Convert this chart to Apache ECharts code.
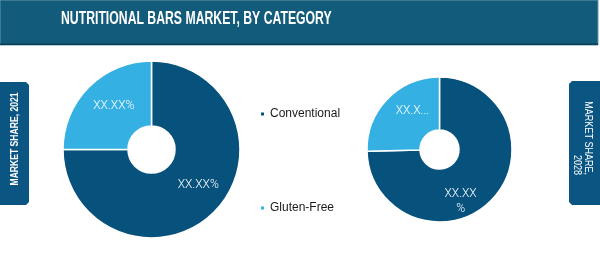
<!DOCTYPE html>
<html><head><meta charset="utf-8">
<script src="https://cdn.jsdelivr.net/npm/echarts@6/dist/echarts.min.js"></script>
<style>html,body{margin:0;padding:0;background:#fff}#c{width:600px;height:263px}</style>
</head><body><div id="c"></div>
<script>
const title = 'NUTRITIONAL BARS MARKET, BY CATEGORY';
const categories = ['Conventional', 'Gluten-Free'];
const share2021 = [75, 25];
const share2028 = [74.6, 25.4];
const labels2021 = ['XX.XX%', 'XX.XX%'];
const labels2028 = ['XX.XX\n%', 'XX.X...'];
const tabLeft = 'MARKET SHARE, 2021';
const tabRight = 'MARKET SHARE,\n2028';
const colors = ['#07517d', '#35b0e3'];

const chart = echarts.init(document.getElementById('c'), null, {renderer: 'canvas'});
const sans = '"Liberation Sans", Arial, sans-serif';
function pie(data, lbls, cx, r0, r1, shifts) {
  return {
    type: 'pie', center: [cx, 149.5], radius: [r0, r1], startAngle: 90, clockwise: true,
    silent: true, avoidLabelOverlap: false,
    itemStyle: {borderColor: '#fff', borderWidth: 1.5},
    label: {show: true, position: 'inside', color: '#fff', fontSize: 12, fontFamily: 'Roboto, sans-serif', fontWeight: 300, lineHeight: 15,
      formatter: p => lbls[p.dataIndex]},
    labelLine: {show: false},
    labelLayout: p => ({dx: shifts[p.dataIndex][0], dy: shifts[p.dataIndex][1]}),
    data: data.map((v, i) => ({name: categories[i], value: v, itemStyle: {color: colors[i]}}))
  };
}
const legendText = {fontSize: 12, color: '#1a1a1a', fontFamily: sans};
chart.setOption({
  animation: false,
  legend: [
    {data: [categories[0]], left: 254, top: 103, icon: 'rect', itemWidth: 5, itemHeight: 5, itemGap: 4, textStyle: legendText, selectedMode: false},
    {data: [categories[1]], left: 254, top: 197, icon: 'rect', itemWidth: 5, itemHeight: 5, itemGap: 4, textStyle: legendText, selectedMode: false}
  ],
  graphic: [
    {type: 'rect', shape: {x: 0, y: 0, width: 598, height: 45}, style: {fill: '#135b7b', stroke: '#6a97ab', lineWidth: 1}},
    {type: 'rect', shape: {x: 0, y: 43.5, width: 598, height: 1.5}, style: {fill: '#0b3f57'}},
    {type: 'text', x: 61, y: 19.5, scaleX: 0.68, style: {text: title, fill: '#fff', font: 'bold 18px ' + sans, verticalAlign: 'middle'}},
    {type: 'polygon', shape: {points: [[0, 82], [26, 82], [29, 85], [29, 202], [26, 205], [0, 205]]}, style: {fill: '#0b5583'}},
    {type: 'polygon', shape: {points: [[572, 81], [600, 81], [600, 205], [572, 205], [569, 202], [569, 84]]}, style: {fill: '#0b5583'}},
    {type: 'text', x: 15, y: 139, rotation: Math.PI / 2, scaleX: 0.78, style: {text: tabLeft, fill: '#fff', font: 'bold 11px ' + sans, align: 'center', verticalAlign: 'middle'}},
    {type: 'text', x: 583, y: 175, rotation: -Math.PI / 2, scaleX: 0.82, style: {text: tabRight, fill: '#fff', font: '11px ' + sans, align: 'right', verticalAlign: 'middle', lineHeight: 11}}
  ],
  series: [
    pie(share2021, labels2021, 151.5, 23.5, 88.5, [[5, -6], [4, -2]]),
    pie(share2028, labels2028, 439.5, 19.5, 72.5, [[-14, 18], [8, -4]])
  ]
});
</script></body></html>
